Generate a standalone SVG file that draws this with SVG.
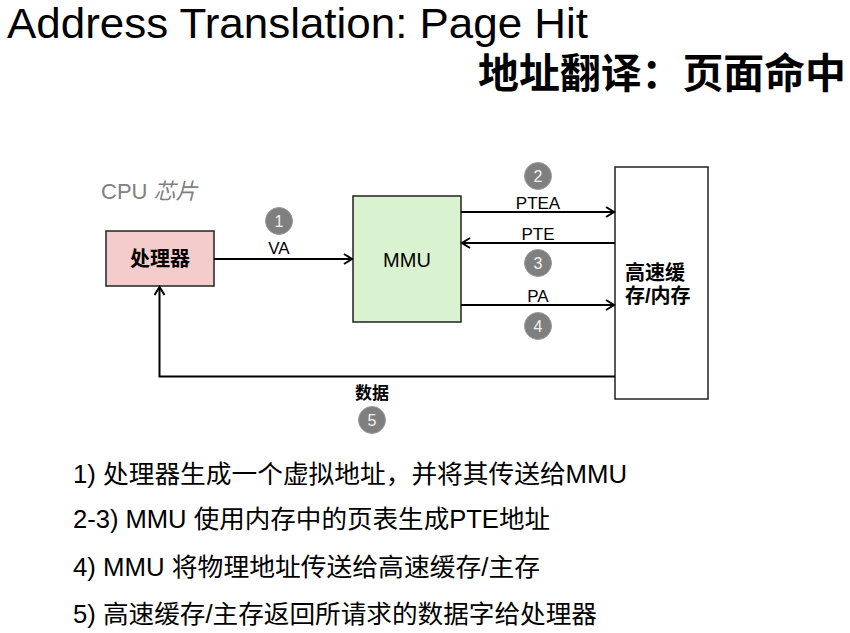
<svg xmlns="http://www.w3.org/2000/svg" width="850" height="633" viewBox="0 0 850 633">
<defs>
<style>
.lat{font-family:"Liberation Sans",Arial,"Noto Sans CJK SC",sans-serif;}
.cjk{font-family:"Liberation Sans","Noto Sans CJK SC",sans-serif;}
.box{stroke:#222;stroke-width:1.5;}
.ln{stroke:#000;stroke-width:2;fill:none;}
.lbl{font-family:"Liberation Sans",Arial,sans-serif;font-size:17px;fill:#000;text-anchor:middle;}
.num circle{fill:#7f7f7f;stroke:#9a9a9a;stroke-width:1;}
.num text{font-family:"Liberation Sans",Arial,sans-serif;font-size:16px;fill:#f2f2f2;text-anchor:middle;}
.step{font-family:"Liberation Sans","Noto Sans CJK SC",sans-serif;font-size:25px;fill:#000;}
</style>
<marker id="ah" markerWidth="12" markerHeight="12" refX="9" refY="6" orient="auto" markerUnits="userSpaceOnUse">
<path d="M1,1 L9,6 L1,11" fill="none" stroke="#000" stroke-width="2"/>
</marker>
</defs>
<rect width="850" height="633" fill="#fff"/>
<text x="7" y="38" class="lat" font-size="42" textLength="581" lengthAdjust="spacingAndGlyphs">Address Translation: Page Hit</text>
<text x="846" y="88" class="cjk" font-size="41" font-weight="bold" text-anchor="end" textLength="368" lengthAdjust="spacingAndGlyphs">地址翻译：页面命中</text>
<g id="cpu-label">
<text x="101" y="199" font-size="22" fill="#808080" class="cjk">CPU <tspan font-style="italic">芯片</tspan></text>
</g>
<g id="processor">
<rect x="106" y="231" width="108" height="55" fill="#f4cccc" class="box"/>
<text x="160" y="266" class="cjk" font-size="20" font-weight="bold" text-anchor="middle">处理器</text>
</g>
<g id="mmu">
<rect x="353" y="196" width="108" height="126" fill="#d9f2d0" class="box"/>
<text x="407" y="267" class="lat" font-size="20" text-anchor="middle">MMU</text>
</g>
<g id="cache">
<rect x="615" y="167" width="93" height="232" fill="#fff" class="box"/>
<text x="625" y="280" class="cjk" font-size="20" font-weight="bold">高速缓</text>
<text x="625" y="303" class="cjk" font-size="20" font-weight="bold">存/内存</text>
</g>
<g id="connectors">
<line x1="214" y1="259" x2="352" y2="259" class="ln" marker-end="url(#ah)"/>
<line x1="461" y1="212" x2="614" y2="212" class="ln" marker-end="url(#ah)"/>
<line x1="615" y1="243" x2="462" y2="243" class="ln" marker-end="url(#ah)"/>
<line x1="461" y1="305" x2="614" y2="305" class="ln" marker-end="url(#ah)"/>
<polyline points="615,376.5 159.5,376.5 159.5,287" class="ln" marker-end="url(#ah)"/>
<text x="279" y="254" class="lbl">VA</text>
<text x="538" y="209" class="lbl">PTEA</text>
<text x="538" y="240" class="lbl">PTE</text>
<text x="538" y="302" class="lbl">PA</text>
<text x="372" y="399" class="cjk" font-size="17" font-weight="bold" text-anchor="middle">数据</text>
</g>
<g id="step-markers" class="num">
<circle cx="279" cy="221" r="13.5"/><text x="279" y="227">1</text>
<circle cx="538" cy="176" r="13.5"/><text x="538" y="182">2</text>
<circle cx="538" cy="263" r="13.5"/><text x="538" y="269">3</text>
<circle cx="538" cy="326" r="13.5"/><text x="538" y="332">4</text>
<circle cx="372" cy="420" r="13.5"/><text x="372" y="426">5</text>
</g>
<g id="steps">
<text x="73" y="483" class="step" textLength="554" lengthAdjust="spacingAndGlyphs">1) 处理器生成一个虚拟地址，并将其传送给MMU</text>
<text x="73" y="528" class="step" textLength="477" lengthAdjust="spacingAndGlyphs">2-3) MMU 使用内存中的页表生成PTE地址</text>
<text x="73" y="576" class="step" textLength="467" lengthAdjust="spacingAndGlyphs">4) MMU 将物理地址传送给高速缓存/主存</text>
<text x="73" y="623" class="step" textLength="524" lengthAdjust="spacingAndGlyphs">5) 高速缓存/主存返回所请求的数据字给处理器</text>
</g>
</svg>
